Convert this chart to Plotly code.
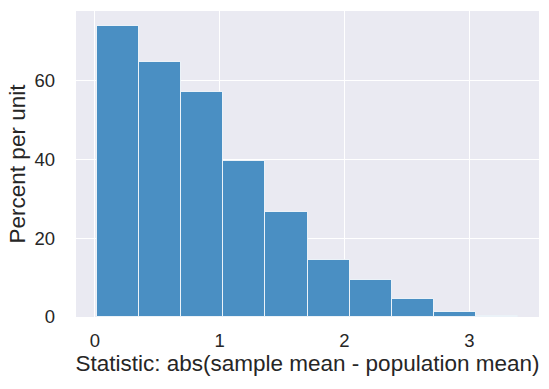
import plotly.graph_objects as go

# Data (percent per unit)
bin_edges = [0.017, 0.354, 0.692, 1.029, 1.366, 1.704, 2.041, 2.378, 2.716, 3.053, 3.39]
percent_per_unit = [74.0, 64.8, 57.1, 39.7, 26.6, 14.5, 9.4, 4.6, 1.3, 0.35]
x_ticks = [0, 1, 2, 3]
y_ticks = [0, 20, 40, 60]

centers = [(a + b) / 2 for a, b in zip(bin_edges[:-1], bin_edges[1:])]
widths = [b - a for a, b in zip(bin_edges[:-1], bin_edges[1:])]

FONT = "Liberation Sans, Arial, sans-serif"
TXT = "#262626"

fig = go.Figure(
    go.Bar(
        x=centers,
        y=percent_per_unit,
        width=widths,
        marker=dict(color="#4A8FC3", line=dict(color="rgba(255,255,255,0.8)", width=1)),
        hoverinfo="skip",
    )
)

span = bin_edges[-1] - bin_edges[0]
fig.update_layout(
    width=549,
    height=389,
    margin=dict(l=76, r=10, t=11, b=72, autoexpand=False),
    paper_bgcolor="white",
    plot_bgcolor="#EAEAF2",
    showlegend=False,
    font=dict(family=FONT, color=TXT, size=18.5),
    bargap=0,
)
fig.update_xaxes(
    range=[bin_edges[0] - 0.05 * span, bin_edges[-1] + 0.05 * span],
    tickvals=x_ticks,
    ticktext=[str(v) for v in x_ticks],
    showgrid=True,
    gridcolor="white",
    gridwidth=1.3,
    zeroline=False,
    showline=False,
    ticks="",
    automargin=False,
    ticklabelstandoff=10,
    tickfont=dict(size=18.5, family=FONT, color=TXT),
    title=dict(text="Statistic: abs(sample mean - population mean)",
               font=dict(size=22.5, family=FONT, color=TXT), standoff=5),
)
fig.update_yaxes(
    range=[0, max(percent_per_unit) * 1.05],
    tickvals=y_ticks,
    ticktext=[str(v) for v in y_ticks],
    showgrid=True,
    gridcolor="white",
    gridwidth=1.3,
    zeroline=False,
    showline=False,
    ticks="",
    automargin=False,
    ticklabelstandoff=20,
    tickfont=dict(size=18.5, family=FONT, color=TXT),
    title=dict(text="Percent per unit",
               font=dict(size=22.5, family=FONT, color=TXT), standoff=2),
)

fig.write_html("out.html", config={"displayModeBar": False},
               post_script="document.body.style.margin='0';")
